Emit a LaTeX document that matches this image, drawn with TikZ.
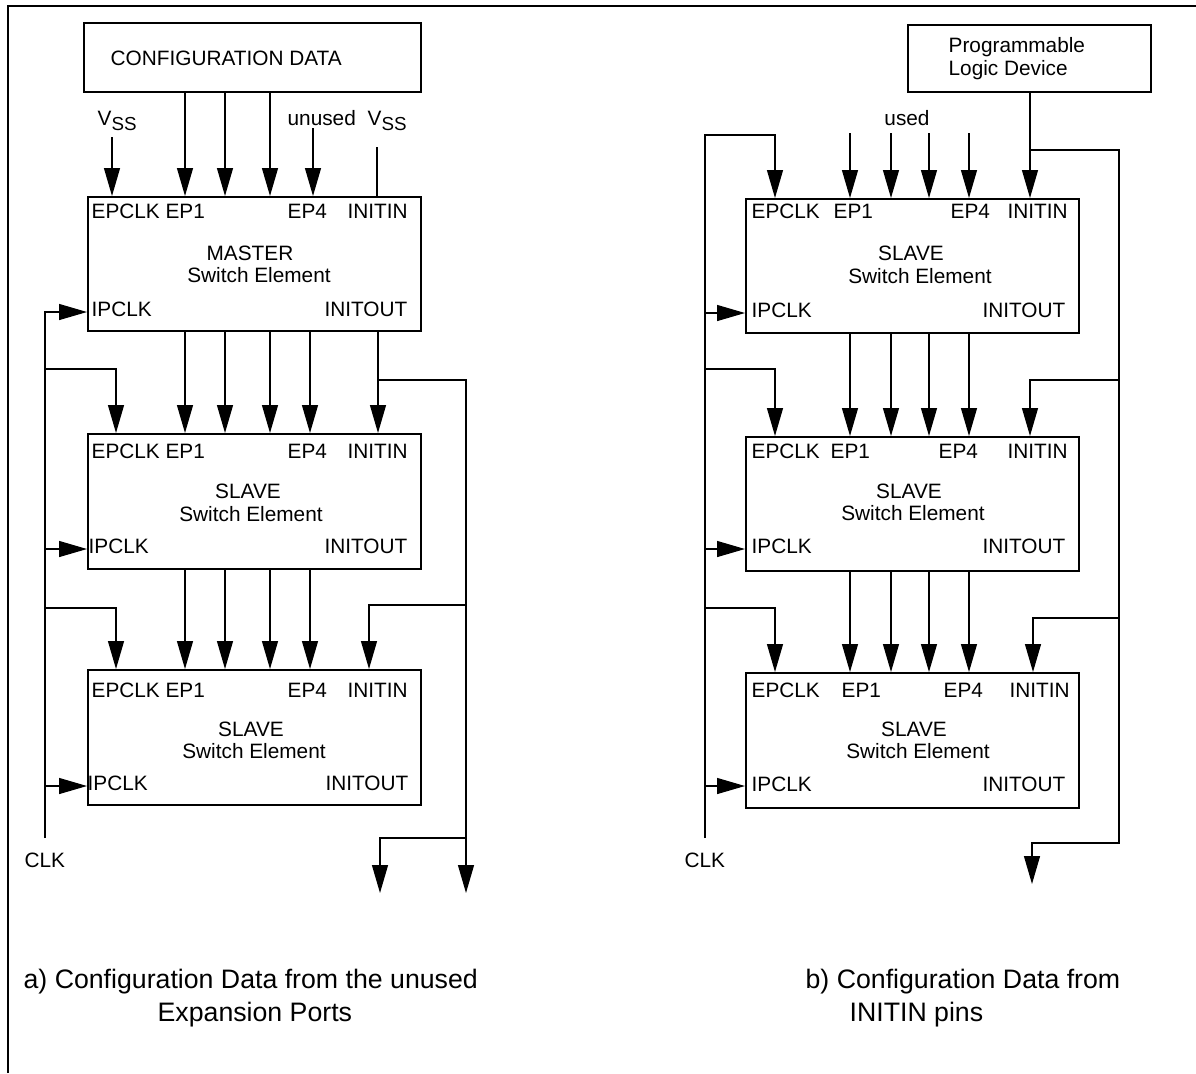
\documentclass[tikz,border=0pt]{standalone}
\usepackage{fontspec}
\setmainfont{Liberation Sans}
\usetikzlibrary{arrows.meta}
\newcommand{\vsslabel}{V\raisebox{-2.8pt}{\fontsize{9.4}{10}\selectfont SS}}
\begin{document}
\begin{tikzpicture}[x=0.5pt,y=-0.5pt,
  line width=0.65pt,
  font=\fontsize{10.4}{12}\selectfont,
  arr/.style={-{Triangle[length=14pt,width=8pt]}},
  box/.style={draw,line width=0.75pt,inner sep=0,anchor=north west},
  lbl/.style={inner sep=0,anchor=base west},
  lble/.style={inner sep=0,anchor=base east},
  lblc/.style={inner sep=0,anchor=base},
  captext/.style={inner sep=0,anchor=base west,font=\fontsize{13.35}{15}\selectfont}]
\useasboundingbox (0,0) rectangle (1196,1073);
% outer frame (top and left edges)
\draw (8,1073) -- (8,6) -- (1196,6);

% ---------------- a) configuration from unused expansion ports
\node[box,minimum width=168.5pt,minimum height=34.5pt] (cfg) at (83,22) {};
\node[lbl] at (110,65) {CONFIGURATION DATA};

\node[box,minimum width=166.5pt,minimum height=67pt] (ma) at (87,196) {};
\node[box,minimum width=166.5pt,minimum height=67.5pt] (sa1) at (87,433) {};
\node[box,minimum width=166.5pt,minimum height=67.5pt] (sa2) at (87,669) {};

% pin labels, master
\node[lbl] at (91,218) {EPCLK EP1};
\node[lbl] at (287,218) {EP4};
\node[lbl] at (347,218) {INITIN};
\node[lblc] at (250,260) {MASTER};
\node[lblc] at (259,282) {Switch Element};
\node[lbl] at (91,316) {IPCLK};
\node[lble] at (408,316) {INITOUT};
% pin labels, slave 1
\node[lbl] at (91,458) {EPCLK EP1};
\node[lbl] at (287,458) {EP4};
\node[lbl] at (347,458) {INITIN};
\node[lblc] at (248,498) {SLAVE};
\node[lblc] at (251,521) {Switch Element};
\node[lbl] at (88,553) {IPCLK};
\node[lble] at (408,553) {INITOUT};
% pin labels, slave 2
\node[lbl] at (91,697) {EPCLK EP1};
\node[lbl] at (287,697) {EP4};
\node[lbl] at (347,697) {INITIN};
\node[lblc] at (251,736) {SLAVE};
\node[lblc] at (254,758) {Switch Element};
\node[lbl] at (87,790) {IPCLK};
\node[lble] at (409,790) {INITOUT};

% inputs of the master
\node[lbl] (vssa) at (97,125) {\vsslabel};
\coordinate (vssat) at (112,137);
\draw[arr] (vssat) -- (112,0 |- ma.north);
\foreach \x in {185,225,270}
  \draw[arr] (\x,0 |- cfg.south) -- (\x,0 |- ma.north);
\node[lbl] (unused) at (287,125) {unused};
\coordinate (unusedt) at (313,128);
\draw[arr] (unusedt) -- (313,0 |- ma.north);
\node[lbl] (vssb) at (367,125) {\vsslabel};
\coordinate (vssbt) at (377,147);
\draw (vssbt) -- (377,0 |- ma.north);

% expansion ports passed down the chain
\foreach \x in {185,225,270,310} {
  \draw[arr] (\x,0 |- ma.south) -- (\x,0 |- sa1.north);
  \draw[arr] (\x,0 |- sa1.south) -- (\x,0 |- sa2.north);
}

% clock distribution
\coordinate (clka) at (45,838);
\node[lbl] at (24,867) {CLK};
\draw[arr] (clka) -- (45,312) -- (ma.west |- 0,312);
\draw[arr] (45,549) -- (sa1.west |- 0,549);
\draw[arr] (45,786) -- (sa2.west |- 0,786);
\draw[arr] (45,369) -- (116,369) -- (116,0 |- sa1.north);
\draw[arr] (45,608) -- (116,608) -- (116,0 |- sa2.north);

% INITOUT of the master
\draw[arr] (378,0 |- ma.south) -- (378,0 |- sa1.north);
\coordinate (outa1) at (380,893);
\coordinate (outa2) at (466,893);
\draw[arr] (378,380) -- (466,380) -- (outa2);
\draw[arr] (466,605) -- (369,605) -- (369,0 |- sa2.north);
\draw[arr] (466,838) -- (380,838) -- (outa1);

\node[captext] at (23,988) {a) Configuration Data from the unused};
\node[captext] at (157,1021) {Expansion Ports};

% ---------------- b) configuration from INITIN pins
\node[box,minimum width=121.5pt,minimum height=33.5pt] (pld) at (907,24) {};
\node[lbl] at (948,52) {Programmable};
\node[lbl] at (948,75) {Logic Device};

\node[box,minimum width=166.5pt,minimum height=67pt] (sb1) at (745,198) {};
\node[box,minimum width=166.5pt,minimum height=67pt] (sb2) at (745,436) {};
\node[box,minimum width=166.5pt,minimum height=67.5pt] (sb3) at (745,672) {};

% pin labels, slave 1
\node[lbl] at (751,218) {EPCLK};
\node[lbl] at (833,218) {EP1};
\node[lbl] at (950,218) {EP4};
\node[lbl] at (1007,218) {INITIN};
\node[lblc] at (911,260) {SLAVE};
\node[lblc] at (920,283) {Switch Element};
\node[lbl] at (751,317) {IPCLK};
\node[lble] at (1066,317) {INITOUT};
% pin labels, slave 2
\node[lbl] at (751,458) {EPCLK};
\node[lbl] at (830,458) {EP1};
\node[lbl] at (938,458) {EP4};
\node[lbl] at (1007,458) {INITIN};
\node[lblc] at (909,498) {SLAVE};
\node[lblc] at (913,520) {Switch Element};
\node[lbl] at (751,553) {IPCLK};
\node[lble] at (1066,553) {INITOUT};
% pin labels, slave 3
\node[lbl] at (751,697) {EPCLK};
\node[lbl] at (841,697) {EP1};
\node[lbl] at (943,697) {EP4};
\node[lbl] at (1009,697) {INITIN};
\node[lblc] at (914,736) {SLAVE};
\node[lblc] at (918,758) {Switch Element};
\node[lbl] at (751,791) {IPCLK};
\node[lble] at (1066,791) {INITOUT};

% used expansion ports
\node[lblc] (used) at (907,125) {used};
\foreach \x in {850,891,929,969} {
  \draw[arr] (\x,133) -- (\x,0 |- sb1.north);
  \draw[arr] (\x,0 |- sb1.south) -- (\x,0 |- sb2.north);
  \draw[arr] (\x,0 |- sb2.south) -- (\x,0 |- sb3.north);
}

% clock distribution
\coordinate (clkb) at (705,838);
\node[lbl] at (684,867) {CLK};
\draw[arr] (clkb) -- (705,135) -- (775,135) -- (775,0 |- sb1.north);
\draw[arr] (705,313) -- (sb1.west |- 0,313);
\draw[arr] (705,549) -- (sb2.west |- 0,549);
\draw[arr] (705,786) -- (sb3.west |- 0,786);
\draw[arr] (705,369) -- (775,369) -- (775,0 |- sb2.north);
\draw[arr] (705,608) -- (775,608) -- (775,0 |- sb3.north);

% INITIN line from the programmable logic device
\coordinate (outb) at (1032,884);
\draw[arr] (1030,0 |- pld.south) -- (1030,0 |- sb1.north);
\draw[arr] (1030,150) -- (1119,150) -- (1119,843) -- (1032,843) -- (outb);
\draw[arr] (1119,380) -- (1030,380) -- (1030,0 |- sb2.north);
\draw[arr] (1119,618) -- (1033,618) -- (1033,0 |- sb3.north);

\node[captext] at (805,988) {b) Configuration Data from};
\node[captext] at (849,1021) {INITIN pins};
\end{tikzpicture}
\end{document}
